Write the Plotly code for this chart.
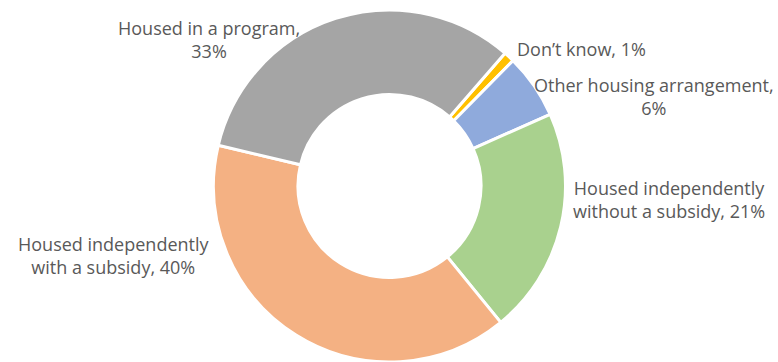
import plotly.graph_objects as go

categories = ["Don’t know", "Other housing arrangement", "Housed independently without a subsidy",
              "Housed independently with a subsidy", "Housed in a program"]
values = [1, 6, 21, 40, 33]
colors = ["#FFC000", "#8FAADC", "#A9D18E", "#F4B183", "#A5A5A5"]

# label texts (as shown) and their anchor points in pixels
label_texts = ["Don’t know, 1%", "Other housing arrangement,<br>6%",
               "Housed independently<br>without a subsidy, 21%",
               "Housed independently<br>with a subsidy, 40%",
               "Housed in a program,<br>33%"]
label_px = [(581, 49), (654, 96), (669, 199), (113, 255), (209, 40)]

W, H = 778, 362
cx, top = 389.5, 10
r = (H - top) / 2
cy = top + r

fig = go.Figure(go.Pie(
    labels=categories, values=values, sort=False, direction="clockwise",
    rotation=41, hole=0.52,
    marker=dict(colors=colors, line=dict(color="white", width=3)),
    textinfo="none", hoverinfo="label+percent",
    domain=dict(x=[(cx - r) / W, (cx + r) / W], y=[0, 1 - top / H]),
))

for t, (px, py) in zip(label_texts, label_px):
    fig.add_annotation(x=px / W, y=1 - py / H, xref="paper", yref="paper",
                       text=t, showarrow=False, xanchor="center", yanchor="middle",
                       align="center", font=dict(family="Open Sans", size=18, color="#595959"))

fig.update_layout(width=W, height=H, margin=dict(l=0, r=0, t=0, b=0),
                  showlegend=False, paper_bgcolor="white", plot_bgcolor="white")

fig.write_html("out.html")
